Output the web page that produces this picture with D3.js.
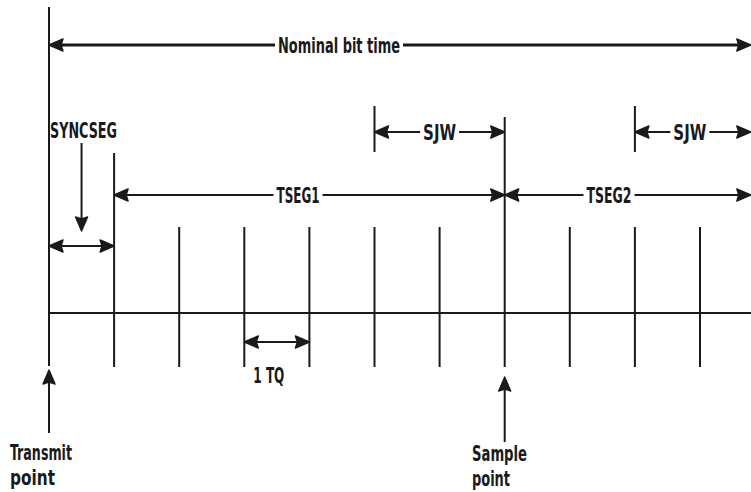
<!DOCTYPE html>
<html>
<head>
<meta charset="utf-8">
<script src="https://cdn.jsdelivr.net/npm/d3@7"></script>
<style>
body { margin: 0; background: #fff; }
text { font-family: "Liberation Sans Narrow", "DejaVu Sans Condensed", "Liberation Sans", sans-serif; font-weight: bold; fill: #1a1a1a; }
</style>
</head>
<body>
<div id="chart-area"></div>
<script>

// time quanta (TQ) marks along one bit
var quanta = [0, 1, 2, 3, 4, 5, 6, 7, 8, 9, 10];
var bitEnd = 10.78;       // picture is cut off here (TQ)
var syncEnd = 1;
var samplePoint = 7;
var sjwMarks = [5, 9];

// dimension arrows: label, start TQ, end TQ, row
var spanLabels = ["Nominal bit time", "SJW", "SJW", "TSEG1", "TSEG2", "", "1 TQ"];
var spanStart  = [0, 5, 9, 1, 7, 0, 3];
var spanEnd    = [bitEnd, 7, bitEnd, 7, bitEnd, 1, 4];
var spanRow    = ["nominal", "sjw", "sjw", "tseg", "tseg", "sync", "tq"];

// pointer labels under the axis
var pointerLabels = [["Transmit", "point"], ["Sample", "point"]];
var pointerAt = [0, samplePoint];

var width = 751, height = 492;

var svg = d3.select("#chart-area").append("svg")
    .attr("width", width)
    .attr("height", height);

var x = d3.scaleLinear()
    .domain([0, 10])
    .range([49, 700]);

// layout
var rowY = {nominal: 45, sjw: 132, tseg: 195, sync: 246, tq: 342};
var axisY = 313;
var ink = "#1a1a1a";
var fs = 22;
var labelWidth = {"Nominal bit time": 122, "SJW": 33, "TSEG1": 43, "TSEG2": 45, "1 TQ": 31};

function head(g, px, py, angle) {
    g.append("path")
        .attr("d", "M0,0 L-14,-6 L-12,0 L-14,6 Z")
        .attr("transform", "translate(" + px + "," + py + ") rotate(" + angle + ")")
        .attr("fill", ink)
        .attr("stroke", ink)
        .attr("stroke-width", 1.4)
        .attr("stroke-linejoin", "round");
}

// horizontal time axis
svg.append("line")
    .attr("x1", x(0)).attr("x2", x(bitEnd) + 5)
    .attr("y1", axisY).attr("y2", axisY)
    .attr("stroke", ink).attr("stroke-width", 2);

// TQ ticks
svg.selectAll(".tq")
    .data(quanta)
    .enter().append("line")
    .attr("class", "tq")
    .attr("x1", function (d) { return x(d); })
    .attr("x2", function (d) { return x(d); })
    .attr("y1", function (d) {
        if (d === 0) return 7;
        if (d === syncEnd) return 153;
        if (d === samplePoint) return 117;
        return 227;
    })
    .attr("y2", function (d) { return d === 0 ? 366 : 367; })
    .attr("stroke", ink)
    .attr("stroke-width", 2);

// SJW marker ticks
svg.selectAll(".sjw")
    .data(sjwMarks)
    .enter().append("line")
    .attr("class", "sjw")
    .attr("x1", function (d) { return x(d); })
    .attr("x2", function (d) { return x(d); })
    .attr("y1", 106).attr("y2", 152)
    .attr("stroke", ink)
    .attr("stroke-width", 2);

// dimension arrows
spanLabels.forEach(function (lab, i) {
    var g = svg.append("g");
    var y = rowY[spanRow[i]];
    var x1 = x(spanStart[i]), x2 = x(spanEnd[i]);
    g.append("line")
        .attr("x1", x1 + 4).attr("x2", x2 - 4)
        .attr("y1", y).attr("y2", y)
        .attr("stroke", ink)
        .attr("stroke-width", spanRow[i] === "nominal" ? 3 : 2);
    head(g, x1, y, 180);
    head(g, x2, y, 0);
    if (!lab) return;
    var onLine = spanRow[i] !== "tq";
    var cx = spanRow[i] === "nominal" ? 339 : spanRow[i] === "sjw" ? (x1 + x2) / 2 + (i === 2 ? -3 : 0) : null;
    if (spanRow[i] === "tseg") cx = i === 3 ? 298 : 609;
    if (!onLine) cx = (x1 + x2) / 2 - 8;
    var t = g.append("text")
        .attr("x", cx)
        .attr("y", onLine ? y + 8 : 383)
        .attr("text-anchor", "middle")
        .attr("font-size", fs)
        .attr("textLength", labelWidth[lab])
        .attr("lengthAdjust", "spacingAndGlyphs")
        .text(lab);
    if (onLine) {
        g.insert("rect", "text")
            .attr("x", cx - labelWidth[lab] / 2 - 3)
            .attr("y", y - 4)
            .attr("width", labelWidth[lab] + 6)
            .attr("height", 8)
            .attr("fill", "#fff");
    }
});

// SYNCSEG label with its pointer
var sx = (x(0) + x(syncEnd)) / 2;
svg.append("text")
    .attr("x", x(0) + 1).attr("y", 138)
    .attr("font-size", fs)
    .attr("textLength", 67)
    .attr("lengthAdjust", "spacingAndGlyphs")
    .text("SYNCSEG");
svg.append("line")
    .attr("x1", sx).attr("x2", sx)
    .attr("y1", 143).attr("y2", 224)
    .attr("stroke", ink).attr("stroke-width", 2);
head(svg, sx, 231, 90);

// transmit / sample pointers
var tipY = [370, 377], tailY = [433, 442], textY = [460, 461];
var textW = [[62, 45], [55, 38]];
pointerAt.forEach(function (d, i) {
    var px = x(d);
    svg.append("line")
        .attr("x1", px).attr("x2", px)
        .attr("y1", tipY[i] + 6).attr("y2", tailY[i])
        .attr("stroke", ink).attr("stroke-width", 2);
    head(svg, px, tipY[i], -90);
    var tx = i === 0 ? 10 : 472;
    pointerLabels[i].forEach(function (s, j) {
        svg.append("text")
            .attr("x", tx)
            .attr("y", textY[i] + j * 25)
            .attr("font-size", fs)
            .attr("textLength", textW[i][j])
            .attr("lengthAdjust", "spacingAndGlyphs")
            .text(s);
    });
});

</script>
</body>
</html>
